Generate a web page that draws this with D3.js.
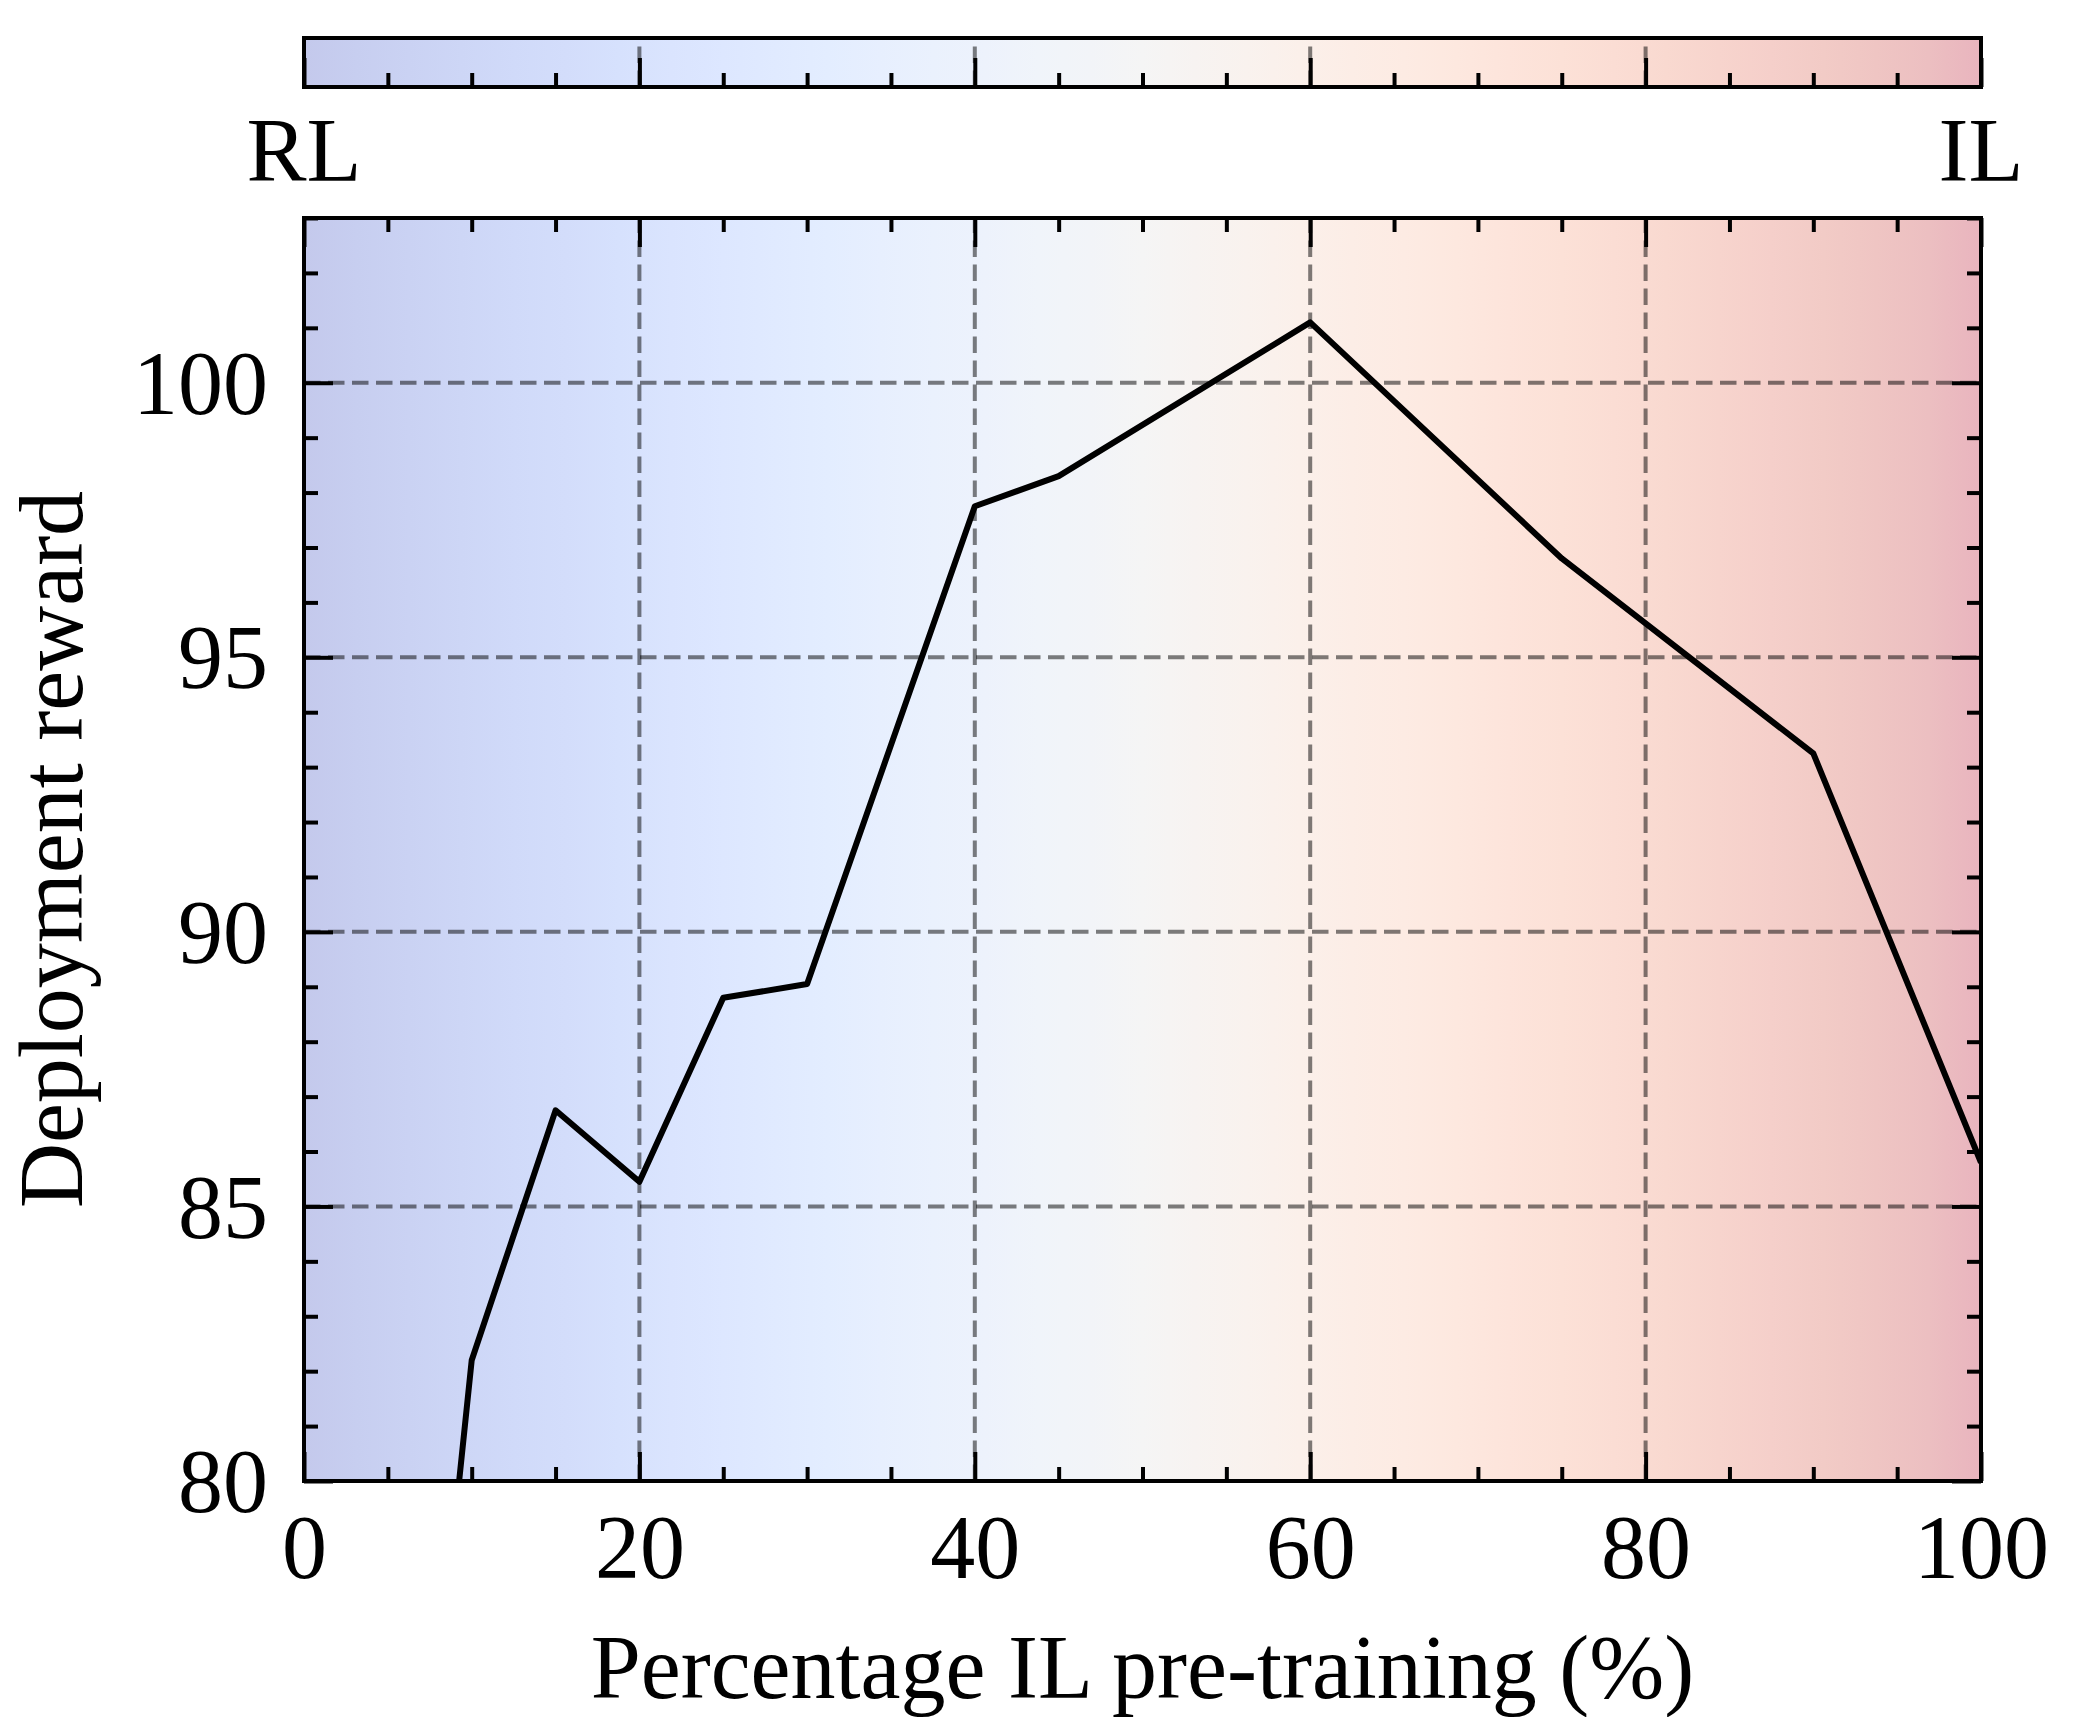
<!DOCTYPE html>
<html>
<head>
<meta charset="utf-8">
<script src="https://cdn.jsdelivr.net/npm/d3@7"></script>
<style>
  html, body { margin: 0; padding: 0; background: #fff; }
  svg { display: block; }
  text { font-family: "Liberation Serif", "Times New Roman", serif; fill: #000; }
</style>
</head>
<body>
<svg id="chart" width="2074" height="1717"></svg>
<script>
// ---- data ----
const pctIL = [5, 10, 15, 20, 25, 30, 40, 45, 60, 75, 90, 100];
const reward = [67.5, 82.2, 86.75, 85.45, 88.8, 89.05, 97.75, 98.3, 101.1, 96.8, 93.25, 85.8];
const xMajorTicks = [0, 20, 40, 60, 80, 100];
const yMajorTicks = [80, 85, 90, 95, 100];
const endLabels = ["RL", "IL"];
const xTitle = "Percentage IL pre-training (%)";
const yTitle = "Deployment reward";
// matplotlib "coolwarm" colour ramp
const coolwarm = [
  [59,76,192],[68,90,204],[77,104,215],[87,117,225],[98,130,234],[108,142,241],[119,154,247],[130,165,251],
  [141,176,254],[152,185,255],[163,194,255],[174,201,253],[184,208,249],[194,213,244],[204,217,238],[213,219,230],
  [221,221,221],[229,216,209],[236,211,197],[241,204,185],[245,196,173],[247,187,160],[247,177,148],[247,166,135],
  [244,154,123],[241,141,111],[236,127,99],[229,112,88],[222,96,77],[213,80,66],[203,62,56],[192,40,47],[180,4,38]
];

// ---- layout ----
const W = 2074, H = 1717;
const P = {left: 304, right: 1981, top: 218, bottom: 1481};
const CB = {top: 38, bottom: 87};
const FONT = 90;
const MAJ = 29, MIN = 14;
const TICKW = 4, BORDERW = 4;

const svg = d3.select("#chart");
const defs = svg.append("defs");

const x = d3.scaleLinear().domain([0, 100]).range([P.left, P.right]);
const y = d3.scaleLinear().domain([80, 103]).range([P.bottom, P.top]);

// gradient
const grad = defs.append("linearGradient").attr("id", "cw")
  .attr("x1", "0%").attr("x2", "100%").attr("y1", "0%").attr("y2", "0%");
coolwarm.forEach((c, i) => {
  const a = 0.3;
  const blend = c.map(v => Math.round(255 * (1 - a) + v * a));
  grad.append("stop").attr("offset", (i / (coolwarm.length - 1) * 100) + "%")
    .attr("stop-color", `rgb(${blend[0]},${blend[1]},${blend[2]})`);
});

defs.append("clipPath").attr("id", "clipMain").append("rect")
  .attr("x", P.left).attr("y", P.top).attr("width", P.right - P.left).attr("height", P.bottom - P.top);
defs.append("clipPath").attr("id", "clipCB").append("rect")
  .attr("x", P.left).attr("y", CB.top).attr("width", P.right - P.left).attr("height", CB.bottom - CB.top);

const gridStyle = sel => sel.attr("stroke", "#000").attr("stroke-opacity", 0.5)
  .attr("stroke-width", 4).attr("stroke-dasharray", "16.5,7.5").attr("fill", "none");

// ---------- colorbar strip ----------
const cb = svg.append("g");
cb.append("rect").attr("x", P.left).attr("y", CB.top).attr("width", P.right - P.left)
  .attr("height", CB.bottom - CB.top).attr("fill", "url(#cw)");
cb.append("g").attr("clip-path", "url(#clipCB)").selectAll("line").data(xMajorTicks).join("line")
  .attr("x1", d => x(d)).attr("x2", d => x(d)).attr("y1", CB.bottom).attr("y2", CB.top)
  .call(gridStyle);
const cbMinor = d3.range(0, 101, 5).filter(v => v % 20 !== 0);
cb.append("g").attr("transform", `translate(0,${CB.bottom})`)
  .call(d3.axisBottom(x).tickValues(cbMinor).tickSize(-MIN).tickFormat(""))
  .call(g => g.select(".domain").remove());
cb.append("g").attr("transform", `translate(0,${CB.bottom})`)
  .call(d3.axisBottom(x).tickValues(xMajorTicks).tickSize(-MAJ).tickFormat(""))
  .call(g => g.select(".domain").remove());
cb.selectAll(".tick line").attr("stroke", "#000").attr("stroke-width", TICKW);
cb.append("rect").attr("x", P.left).attr("y", CB.top).attr("width", P.right - P.left)
  .attr("height", CB.bottom - CB.top).attr("fill", "none").attr("stroke", "#000").attr("stroke-width", BORDERW);

svg.selectAll(".endlab").data(endLabels).join("text").attr("class", "endlab")
  .attr("x", (d, i) => i === 0 ? x(0) : x(100)).attr("y", 181)
  .attr("text-anchor", "middle").attr("font-size", FONT).text(d => d);

// ---------- main plot ----------
const main = svg.append("g");
main.append("rect").attr("x", P.left).attr("y", P.top).attr("width", P.right - P.left)
  .attr("height", P.bottom - P.top).attr("fill", "url(#cw)");

const gridG = main.append("g").attr("clip-path", "url(#clipMain)");
gridG.selectAll("line.v").data(xMajorTicks).join("line").attr("class", "v")
  .attr("x1", d => x(d)).attr("x2", d => x(d)).attr("y1", P.bottom).attr("y2", P.top).call(gridStyle);
gridG.selectAll("line.h").data(yMajorTicks).join("line").attr("class", "h")
  .attr("x1", P.left).attr("x2", P.right).attr("y1", d => y(d)).attr("y2", d => y(d)).call(gridStyle);

const line = d3.line().x((d, i) => x(pctIL[i])).y(d => y(d));
main.append("path").attr("clip-path", "url(#clipMain)").datum(reward)
  .attr("d", line).attr("fill", "none").attr("stroke", "#000").attr("stroke-width", 6)
  .attr("stroke-linejoin", "round").attr("stroke-linecap", "butt");

const xMinor = d3.range(0, 101, 5).filter(v => v % 20 !== 0);
const yMinor = d3.range(80, 104, 1).filter(v => v % 5 !== 0);

const axes = main.append("g");
// bottom
axes.append("g").attr("transform", `translate(0,${P.bottom})`)
  .call(d3.axisBottom(x).tickValues(xMinor).tickSize(-MIN).tickFormat(""));
axes.append("g").attr("class", "xlab").attr("transform", `translate(0,${P.bottom})`)
  .call(d3.axisBottom(x).tickValues(xMajorTicks).tickSize(-MAJ).tickPadding(33).tickFormat(d3.format("d")));
// top
axes.append("g").attr("transform", `translate(0,${P.top})`)
  .call(d3.axisTop(x).tickValues(xMinor).tickSize(-MIN).tickFormat(""));
axes.append("g").attr("transform", `translate(0,${P.top})`)
  .call(d3.axisTop(x).tickValues(xMajorTicks).tickSize(-MAJ).tickFormat(""));
// left
axes.append("g").attr("transform", `translate(${P.left},0)`)
  .call(d3.axisLeft(y).tickValues(yMinor).tickSize(-MIN).tickFormat(""));
axes.append("g").attr("class", "ylab").attr("transform", `translate(${P.left},0)`)
  .call(d3.axisLeft(y).tickValues(yMajorTicks).tickSize(-MAJ).tickPadding(36).tickFormat(d3.format("d")));
// right
axes.append("g").attr("transform", `translate(${P.right},0)`)
  .call(d3.axisRight(y).tickValues(yMinor).tickSize(-MIN).tickFormat(""));
axes.append("g").attr("transform", `translate(${P.right},0)`)
  .call(d3.axisRight(y).tickValues(yMajorTicks).tickSize(-MAJ).tickFormat(""));

axes.selectAll(".domain").remove();
axes.selectAll(".tick line").attr("stroke", "#000").attr("stroke-width", TICKW);
axes.selectAll(".tick text").attr("font-size", FONT)
  .attr("font-family", "'Liberation Serif', 'Times New Roman', serif").attr("fill", "#000");
axes.select(".ylab").selectAll(".tick text").attr("dy", "0.34em");

main.append("rect").attr("x", P.left).attr("y", P.top).attr("width", P.right - P.left)
  .attr("height", P.bottom - P.top).attr("fill", "none").attr("stroke", "#000").attr("stroke-width", BORDERW);

// titles
svg.append("text").attr("x", (P.left + P.right) / 2).attr("y", 1698)
  .attr("text-anchor", "middle").attr("font-size", FONT).text(xTitle);
svg.append("text").attr("transform", `translate(82,${(P.top + P.bottom) / 2}) rotate(-90)`)
  .attr("text-anchor", "middle").attr("font-size", FONT).text(yTitle);
</script>
</body>
</html>
